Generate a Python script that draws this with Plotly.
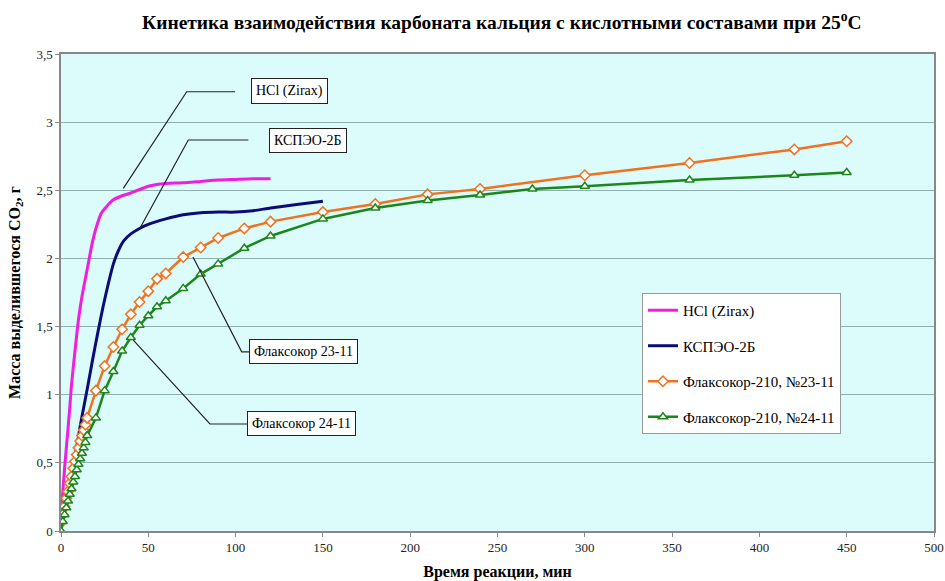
import plotly.graph_objects as go

# ---------------- data ----------------
hcl_t = [0, 1, 2, 3, 4, 5, 6, 8, 10, 12, 15, 18, 20, 23, 26, 30, 35, 40, 50, 60, 70, 80, 90, 100, 110, 120]
hcl_m = [0.10, 0.28, 0.45, 0.60, 0.75, 0.90, 1.07, 1.32, 1.55, 1.72, 1.92, 2.12, 2.22, 2.33, 2.38, 2.43, 2.46, 2.48,
         2.53, 2.55, 2.555, 2.565, 2.575, 2.58, 2.585, 2.585]

ksp_t = [0, 3, 6, 9, 12, 15, 18, 21, 24, 27, 30, 33, 36, 40, 45, 50, 60, 70, 80, 90, 100, 110, 120, 135, 150]
ksp_m = [0.05, 0.22, 0.42, 0.62, 0.84, 1.04, 1.25, 1.45, 1.64, 1.81, 1.96, 2.06, 2.13, 2.18, 2.22, 2.25, 2.29, 2.32,
         2.335, 2.34, 2.34, 2.35, 2.37, 2.395, 2.42]

f23_t = [0, 1, 2, 3, 4, 5, 6, 7, 8, 9, 10, 11, 12, 13, 14, 15, 20, 25, 30, 35, 40, 45, 50, 55, 60, 70, 80, 90,
         105, 120, 150, 180, 210, 240, 300, 360, 420, 450]
f23_m = [0.06, 0.12, 0.18, 0.24, 0.29, 0.35, 0.40, 0.46, 0.51, 0.56, 0.61, 0.66, 0.70, 0.74, 0.78, 0.83, 1.03, 1.21,
         1.35, 1.48, 1.59, 1.68, 1.76, 1.85, 1.89, 2.01, 2.08, 2.15, 2.22, 2.27, 2.34, 2.40, 2.47, 2.51, 2.61, 2.70,
         2.80, 2.86]

f24_t = [0, 1, 2, 3, 4, 5, 6, 7, 8, 9, 10, 11, 12, 13, 14, 15, 20, 25, 30, 35, 40, 45, 50, 55, 60, 70, 80, 90,
         105, 120, 150, 180, 210, 240, 270, 300, 360, 420, 450]
f24_m = [0.0, 0.07, 0.12, 0.17, 0.22, 0.27, 0.31, 0.36, 0.40, 0.45, 0.49, 0.53, 0.57, 0.61, 0.65, 0.70, 0.83, 1.03,
         1.17, 1.32, 1.42, 1.51, 1.58, 1.645, 1.69, 1.78, 1.885, 1.96, 2.075, 2.165, 2.29, 2.37, 2.425, 2.465, 2.51,
         2.53, 2.575, 2.61, 2.63]

y_tickvals = [0, 0.5, 1, 1.5, 2, 2.5, 3, 3.5]
y_ticktext = ["0", "0,5", "1", "1,5", "2", "2,5", "3", "3,5"]
x_tickvals = [0, 50, 100, 150, 200, 250, 300, 350, 400, 450, 500]

labels = [
    ("HCl (Zirax)", 130.6, 3.228),
    ("КСПЭО-2Б", 141.5, 2.869),
    ("Флаксокор 23-11", 138.6, 1.32),
    ("Флаксокор 24-11", 137.7, 0.789),
]
leaders = [
    [(35.7, 2.514), (72.0, 3.223), (99.7, 3.223)],
    [(45.2, 2.221), (72.9, 2.869), (107.3, 2.869)],
    [(75.6, 2.010), (103.5, 1.315), (111.7, 1.315)],
    [(41.4, 1.401), (85.3, 0.785), (108.2, 0.785)],
]

FONT = "Liberation Serif"

fig = go.Figure()
fig.add_trace(go.Scatter(x=hcl_t, y=hcl_m, mode="lines", name="HCl (Zirax)",
                         line=dict(color="#f01ee0", width=3, shape="spline", smoothing=0.6),
                         legendgroup="a"))
fig.add_trace(go.Scatter(x=ksp_t, y=ksp_m, mode="lines", name="КСПЭО-2Б",
                         line=dict(color="#0c0c78", width=3, shape="spline", smoothing=0.6),
                         legendgroup="b"))
fig.add_trace(go.Scatter(x=f23_t, y=f23_m, mode="lines+markers", name="Флаксокор-210, №23-11",
                         line=dict(color="#f2711e", width=2.5),
                         marker=dict(symbol="diamond", size=8, color="white",
                                     line=dict(color="#f2711e", width=1.5)),
                         legendgroup="c"))
fig.add_trace(go.Scatter(x=f24_t, y=f24_m, mode="lines+markers", name="Флаксокор-210, №24-11",
                         line=dict(color="#1c861c", width=2.5),
                         marker=dict(symbol="triangle-up", size=8, color="white",
                                     line=dict(color="#1c861c", width=1.5)),
                         legendgroup="d"))

shapes = []
for pts in leaders:
    path = "M " + " L ".join(f"{x},{y}" for x, y in pts)
    shapes.append(dict(type="path", path=path, xref="x", yref="y",
                       line=dict(color="#222222", width=1.2)))

annotations = []
for txt, x, y in labels:
    annotations.append(dict(x=x, y=y, xref="x", yref="y", text=txt, showarrow=False,
                            font=dict(family=FONT, size=14, color="black"),
                            bgcolor="white", bordercolor="#222222", borderwidth=1, borderpad=4))

fig.update_layout(
    width=945, height=581,
    margin=dict(l=61, r=11, t=54, b=50),
    paper_bgcolor="white",
    plot_bgcolor="#dcfcfc",
    font=dict(family=FONT, size=13, color="#222"),
    title=dict(text="Кинетика взаимодействия карбоната кальция с кислотными составами при 25<sup>o</sup>C",
               x=0.531, xanchor="center", y=0.962, yanchor="middle",
               font=dict(family=FONT, size=19.5, color="black", weight="bold")),
    xaxis=dict(range=[0, 500], tickvals=x_tickvals, showgrid=False, zeroline=False, automargin=False,
               showline=True, linecolor="#888", linewidth=1.5, mirror=True,
               ticks="outside", ticklen=4, tickcolor="#888",
               tickfont=dict(family=FONT, size=13, color="#222"),
               title=dict(text="<b>Время реакции, мин</b>", standoff=11,
                          font=dict(family=FONT, size=16, color="black"))),
    yaxis=dict(range=[0, 3.5], tickvals=y_tickvals, ticktext=y_ticktext, automargin=False,
               showgrid=True, gridcolor="#8fb0b0", gridwidth=1, zeroline=False,
               showline=True, linecolor="#888", linewidth=1.5, mirror=True,
               ticks="outside", ticklen=4, tickcolor="#888",
               tickfont=dict(family=FONT, size=13, color="#222"),
               title=dict(text="<b>Масса выделившегося CO<sub>2</sub>, г</b>", standoff=12,
                          font=dict(family=FONT, size=16, color="black"))),
    legend=dict(x=0.6655, y=0.499, xanchor="left", yanchor="top",
                bgcolor="white", bordercolor="#999", borderwidth=1,
                font=dict(family=FONT, size=15, color="black"),
                tracegroupgap=13, itemwidth=30),
    shapes=shapes,
    annotations=annotations,
)

fig.write_html("out.html", config={"displayModeBar": False},
               post_script="document.body.style.margin='0';document.body.style.overflow='hidden';")
